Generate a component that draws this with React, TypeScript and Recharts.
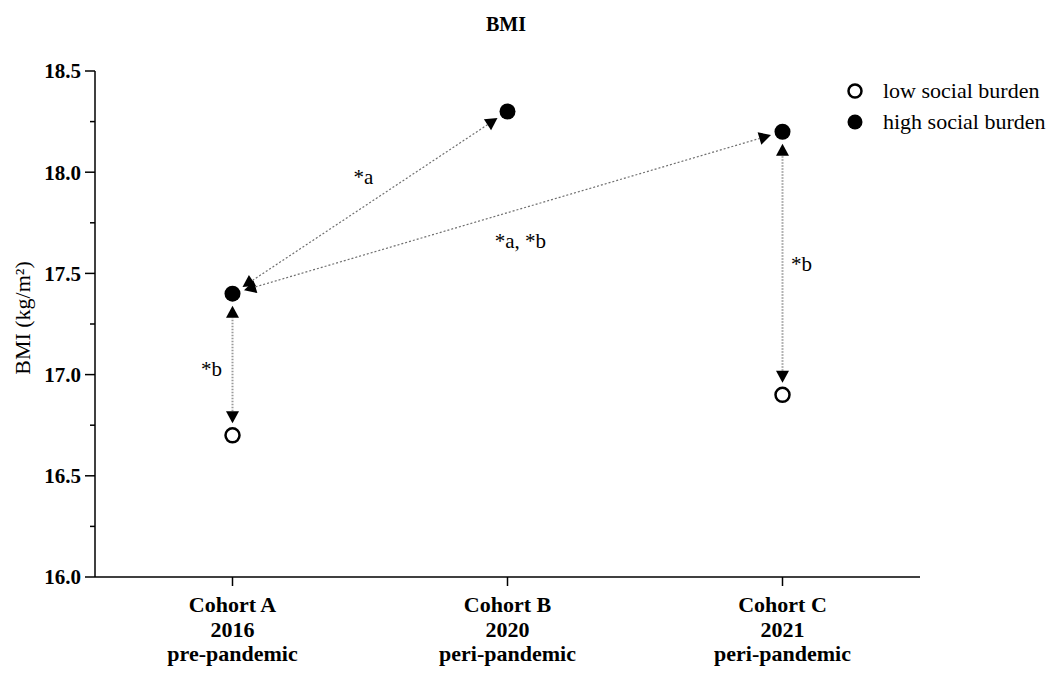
import React from 'react';
import { ScatterChart, Scatter, XAxis, YAxis, ReferenceLine, ReferenceDot } from 'recharts';

const categories = ['Cohort A', 'Cohort B', 'Cohort C'];
const years = ['2016', '2020', '2021'];
const periods = ['pre-pandemic', 'peri-pandemic', 'peri-pandemic'];

const lowBurden = [
  { x: 0, y: 16.7 },
  { x: 2, y: 16.9 },
];
const highBurden = [
  { x: 0, y: 17.4 },
  { x: 1, y: 18.3 },
  { x: 2, y: 18.2 },
];

const yTicks = [16, 16.25, 16.5, 16.75, 17, 17.25, 17.5, 17.75, 18, 18.25, 18.5];
const majorYTicks = [16, 16.5, 17, 17.5, 18, 18.5];

const comparisons = [
  { from: { x: 0, y: 17.4 }, to: { x: 1, y: 18.3 }, vertical: false },
  { from: { x: 0, y: 17.4 }, to: { x: 2, y: 18.2 }, vertical: false },
  { from: { x: 0, y: 16.7 }, to: { x: 0, y: 17.4 }, vertical: true },
  { from: { x: 2, y: 16.9 }, to: { x: 2, y: 18.2 }, vertical: true },
];

const annotations = [
  { x: 0.476, y: 17.98, text: '*a' },
  { x: 1.047, y: 17.66, text: '*a, *b' },
  { x: -0.076, y: 17.03, text: '*b' },
  { x: 2.069, y: 17.55, text: '*b' },
];

const FONT = '"Liberation Serif", "Times New Roman", serif';

const YTick = (props: any) => {
  const { x, y, payload } = props;
  const v = payload.value;
  const major = majorYTicks.some((m) => Math.abs(m - v) < 1e-6);
  return (
    <g>
      <line x1={x - (major ? 10 : 5)} x2={x} y1={y} y2={y} stroke="#000" strokeWidth={1.5} />
      {major && (
        <text x={x - 14} y={y} dy="0.35em" textAnchor="end" fontFamily={FONT} fontWeight="bold" fontSize={21} fill="#000">
          {v.toFixed(1)}
        </text>
      )}
    </g>
  );
};

const XTick = (props: any) => {
  const { x, y, payload } = props;
  const i = payload.value;
  if (i < 0 || i > 2 || Math.abs(i - Math.round(i)) > 1e-6) return null;
  return (
    <g>
      <line x1={x} x2={x} y1={y} y2={y + 9} stroke="#000" strokeWidth={1.5} />
      <text x={x} textAnchor="middle" fontFamily={FONT} fontWeight="bold" fontSize={22} fill="#000">
        <tspan x={x} y={y + 35}>{categories[i]}</tspan>
        <tspan x={x} y={y + 60}>{years[i]}</tspan>
        <tspan x={x} y={y + 84}>{periods[i]}</tspan>
      </text>
    </g>
  );
};

const arrowShape = (vertical: boolean) => (props: any) => {
  const { x1, y1, x2, y2 } = props;
  const dx = x2 - x1;
  const dy = y2 - y1;
  const len = Math.sqrt(dx * dx + dy * dy);
  const ux = dx / len;
  const uy = dy / len;
  const gap = 12;
  const headLen = 12;
  const headHalf = 6.5;
  const sx = x1 + ux * gap;
  const sy = y1 + uy * gap;
  const ex = x2 - ux * gap;
  const ey = y2 - uy * gap;
  const px = -uy;
  const py = ux;
  const headAt = (tx: number, ty: number, dirx: number, diry: number) => {
    const bx = tx - dirx * headLen;
    const by = ty - diry * headLen;
    return `${tx},${ty} ${bx + px * headHalf},${by + py * headHalf} ${bx - px * headHalf},${by - py * headHalf}`;
  };
  return (
    <g>
      <line
        x1={sx + ux * headLen}
        y1={sy + uy * headLen}
        x2={ex - ux * headLen}
        y2={ey - uy * headLen}
        stroke={vertical ? '#9a9a9a' : '#6f6f6f'}
        strokeWidth={vertical ? 2 : 1.2}
        strokeDasharray={vertical ? '1.5 1.5' : '2 2'}
      />
      <polygon points={headAt(sx, sy, -ux, -uy)} fill="#000" />
      <polygon points={headAt(ex, ey, ux, uy)} fill="#000" />
    </g>
  );
};

const OpenDot = (props: any) => {
  const { cx, cy } = props;
  return <circle cx={cx} cy={cy} r={7} fill="#fff" stroke="#000" strokeWidth={2.5} />;
};
const FilledDot = (props: any) => {
  const { cx, cy } = props;
  return <circle cx={cx} cy={cy} r={8} fill="#000" />;
};

const LegendBox = () => (
  <div style={{ position: 'absolute', left: 845, top: 75, width: 211, fontFamily: FONT, fontSize: 22, color: '#000' }}>
    <div style={{ display: 'flex', alignItems: 'center', height: 31 }}>
      <svg width={30} height={20}>
        <circle cx={10} cy={10} r={6.5} fill="#fff" stroke="#000" strokeWidth={2.5} />
      </svg>
      <span style={{ marginLeft: 8 }}>low social burden</span>
    </div>
    <div style={{ display: 'flex', alignItems: 'center', height: 31 }}>
      <svg width={30} height={20}>
        <circle cx={10} cy={10} r={7.5} fill="#000" />
      </svg>
      <span style={{ marginLeft: 8 }}>high social burden</span>
    </div>
  </div>
);

export default function App() {
  return (
    <div style={{ position: 'absolute', left: 0, top: 0, width: 1056, height: 675, background: '#fff' }}>
      <ScatterChart width={1056} height={675} margin={{ top: 71, right: 136, bottom: 8, left: 35 }}>
        <text x={506} y={31} textAnchor="middle" fontFamily={FONT} fontWeight="bold" fontSize={20} fill="#000">
          BMI
        </text>
        <text
          x={22}
          y={318}
          transform="rotate(-90 22 318)"
          textAnchor="middle"
          dominantBaseline="central"
          fontFamily={FONT}
          fontSize={22}
          fill="#000"
        >
          BMI (kg/m²)
        </text>
        <XAxis
          type="number"
          dataKey="x"
          domain={[-0.5, 2.5]}
          ticks={[0, 1, 2]}
          tick={<XTick />}
          tickLine={false}
          tickSize={0}
          tickMargin={0}
          axisLine={{ stroke: '#000', strokeWidth: 1.5 }}
          height={90}
          allowDataOverflow
        />
        <YAxis
          type="number"
          dataKey="y"
          domain={[16, 18.5]}
          ticks={yTicks}
          tick={<YTick />}
          tickLine={false}
          tickSize={0}
          tickMargin={0}
          axisLine={{ stroke: '#000', strokeWidth: 1.5 }}
          width={60}
          interval={0}
          allowDataOverflow
        />
        {comparisons.map((c, i) => (
          <ReferenceLine
            key={i}
            segment={[c.from, c.to]}
            shape={arrowShape(c.vertical)}
            ifOverflow="visible"
          />
        ))}
        {annotations.map((a, i) => (
          <ReferenceDot
            key={'a' + i}
            x={a.x}
            y={a.y}
            r={0}
            fill="none"
            stroke="none"
            ifOverflow="visible"
            label={{ value: a.text, position: 'center', fontFamily: FONT, fontSize: 21, fill: '#000' }}
          />
        ))}
        <Scatter name="low social burden" data={lowBurden} shape={<OpenDot />} isAnimationActive={false} />
        <Scatter name="high social burden" data={highBurden} shape={<FilledDot />} isAnimationActive={false} />
      </ScatterChart>
      <LegendBox />
    </div>
  );
}
